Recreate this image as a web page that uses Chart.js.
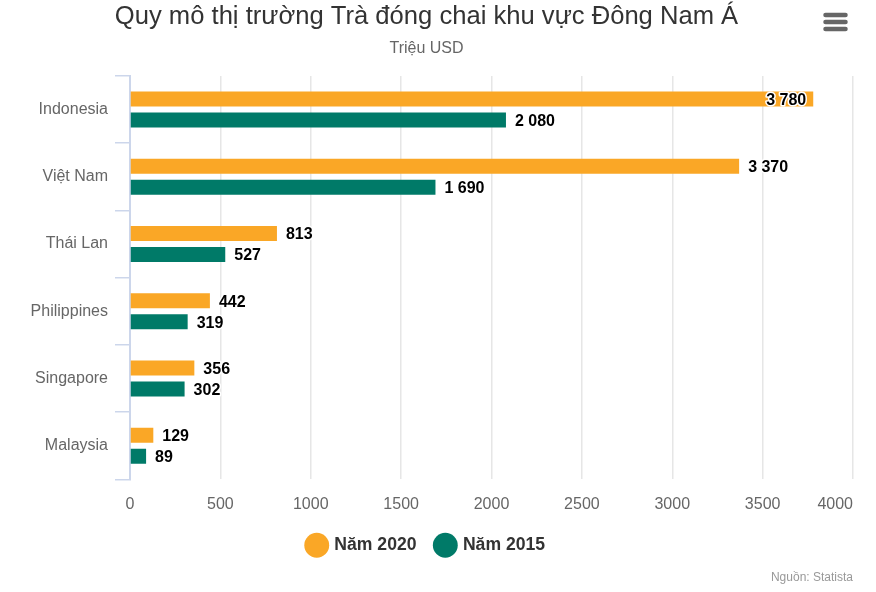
<!DOCTYPE html>
<html>
<head>
<meta charset="utf-8">
<script src="https://cdn.jsdelivr.net/npm/chart.js@4"></script>
<style>
  body { margin: 0; background: #fff; }
  canvas { display: block; }
</style>
</head>
<body>
<canvas id="grafico" width="876" height="592"></canvas>
<script>
const categories = ['Indonesia', 'Việt Nam', 'Thái Lan', 'Philippines', 'Singapore', 'Malaysia'];
const values2020 = [3780, 3370, 813, 442, 356, 129];
const values2015 = [2080, 1690, 527, 319, 302, 89];
const seriesNames = ['Năm 2020', 'Năm 2015'];
const titleText = 'Quy mô thị trường Trà đóng chai khu vực Đông Nam Á';
const subtitleText = 'Triệu USD';
const sourceText = 'Nguồn: Statista';

const FONT = '"Liberation Sans", Arial, sans-serif';
const ORANGE = '#faa726';
const GREEN = '#007a68';

// Nhan du lieu, nguon, menu va nhan truc x
const extras = {
    id: 'extras',
    afterDraw(chart) {
        const ctx = chart.ctx;
        const xScale = chart.scales.x;
        ctx.save();

        // nhan truc x: nhan cuoi duoc day vao trong nhu ban goc
        ctx.font = '16px ' + FONT;
        ctx.fillStyle = '#666666';
        ctx.textBaseline = 'middle';
        xScale.ticks.forEach((t, i) => {
            const last = i === xScale.ticks.length - 1;
            ctx.textAlign = last ? 'right' : 'center';
            ctx.fillText(String(t.value), xScale.getPixelForTick(i), 505);
        });

        // nhan gia tri
        ctx.font = 'bold 16px ' + FONT;
        ctx.lineJoin = 'round';
        chart.data.datasets.forEach((ds, d) => {
            chart.getDatasetMeta(d).data.forEach((bar, j) => {
                const text = String(ds.data[j]).replace(/\B(?=(\d{3})+$)/g, ' ');
                const w = ctx.measureText(text).width;
                let x = bar.x + 9;
                let color = '#000000';
                if (x + w > chart.chartArea.right) {
                    x = bar.x - 7 - w;
                }
                ctx.textAlign = 'left';
                ctx.lineWidth = 3;
                ctx.strokeStyle = '#ffffff';
                ctx.strokeText(text, x, bar.y + 1.5);
                ctx.fillStyle = color;
                ctx.fillText(text, x, bar.y + 1.5);
            });
        });

        // nguon
        ctx.font = '12px ' + FONT;
        ctx.fillStyle = '#999999';
        ctx.textAlign = 'right';
        ctx.fillText(sourceText, 853, 578);

        // menu
        ctx.strokeStyle = '#666666';
        ctx.lineWidth = 4.5;
        ctx.lineCap = 'round';
        [15, 22, 29].forEach(y => {
            ctx.beginPath();
            ctx.moveTo(825.5, y);
            ctx.lineTo(845.5, y);
            ctx.stroke();
        });
        ctx.restore();
    }
};

new Chart(document.getElementById('grafico').getContext('2d'), {
    type: 'bar',
    data: {
        labels: categories,
        datasets: [
            { label: seriesNames[0], data: values2020, backgroundColor: ORANGE },
            { label: seriesNames[1], data: values2015, backgroundColor: GREEN }
        ]
    },
    options: {
        indexAxis: 'y',
        responsive: false,
        animation: false,
        datasets: { bar: { categoryPercentage: 0.622, barPercentage: 0.714 } },
        layout: { padding: { top: 2, right: 23, bottom: 28, left: 0 } },
        scales: {
            x: {
                min: 0,
                max: 4000,
                ticks: { display: false, stepSize: 500 },
                grid: { color: '#e6e6e6', lineWidth: 1.5, drawTicks: false },
                border: { display: false },
                afterFit(scale) { scale.height = 37; }
            },
            y: {
                grid: { drawOnChartArea: false, color: '#ccd6eb', lineWidth: 1.5, tickLength: 15 },
                border: { color: '#ccd6eb', width: 2 },
                ticks: { color: '#666666', font: { family: FONT, size: 16 }, padding: 7 },
                afterFit(scale) { scale.width = 130; }
            }
        },
        plugins: {
            title: {
                display: true,
                text: titleText,
                color: '#333333',
                font: { family: FONT, size: 25.6, weight: 'normal' },
                padding: { top: 0, bottom: 6 }
            },
            subtitle: {
                display: true,
                text: subtitleText,
                color: '#666666',
                font: { family: FONT, size: 16, weight: 'normal' },
                padding: { top: 0, bottom: 18 }
            },
            legend: {
                position: 'bottom',
                labels: {
                    usePointStyle: true,
                    pointStyle: 'circle',
                    boxHeight: 18,
                    color: '#333333',
                    padding: 20,
                    font: { family: FONT, size: 17.6, weight: 'bold' }
                }
            },
            tooltip: { enabled: false }
        }
    },
    plugins: [extras]
});
</script>
</body>
</html>
